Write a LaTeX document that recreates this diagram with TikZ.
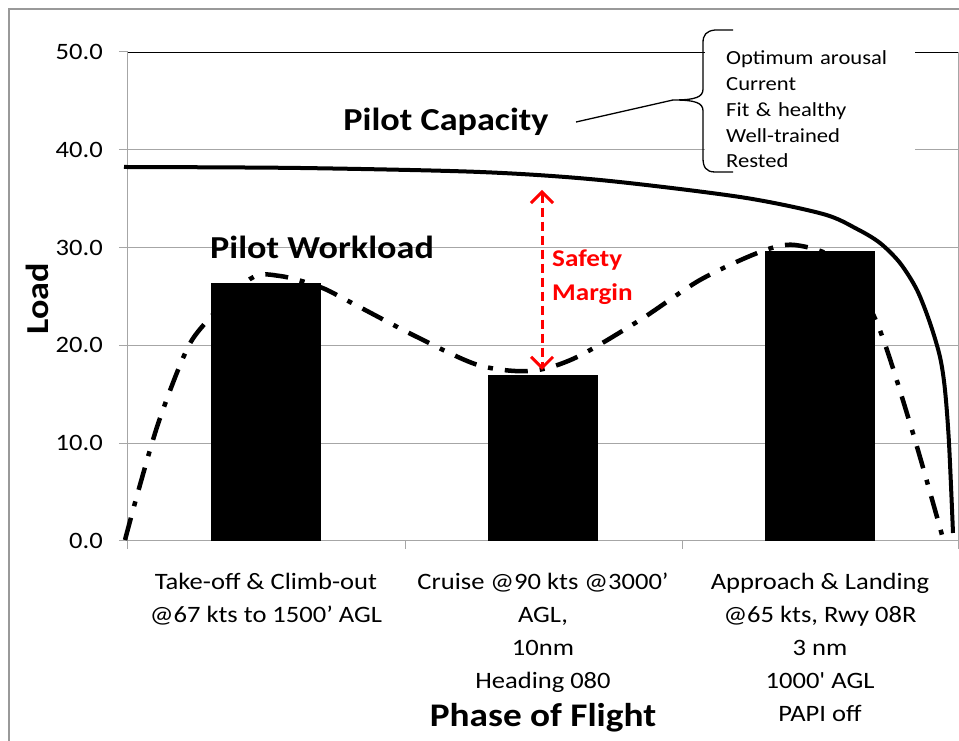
\documentclass[tikz,border=0pt]{standalone}
\usepackage{fontspec}
\setmainfont{Carlito}[FakeStretch=1.13, Ligatures=TeXOff]
\usetikzlibrary{positioning, arrows.meta}

\begin{document}
\begin{tikzpicture}[
    x=1pt, y=1pt,
    gridline/.style={draw=gray!70, line width=1pt},
    ticklabel/.style={anchor=east, inner sep=0pt, font=\fontsize{23.5}{28}\selectfont},
    catlabel/.style={anchor=north, align=center, inner sep=0pt, font=\fontsize{23.5}{33}\selectfont},
    bar/.style={fill=black},
    capacity/.style={line width=4pt},
    workload/.style={line width=4.5pt, dash pattern=on 23pt off 12pt on 5pt off 12pt},
    margin/.style={red, line width=3pt, dash pattern=on 9pt off 5pt,
        {Straight Barb[length=11pt,width=22pt]}-{Straight Barb[length=11pt,width=22pt]}},
    title/.style={font=\bfseries\fontsize{32}{36}\selectfont},
    ]
    \useasboundingbox (-128,-200) rectangle (831,541);

    % frame round the chart
    \draw[gray!80, line width=2pt] (-119,-200) -- (-119,532) -- (831,532);

    % grid, axes and ticks
    \begin{scope}[y=9.78pt]
        \foreach \v in {10,20,30,40}
            \draw[gridline] (0,\v) -- (830,\v);
        \draw[gridline] (0,0) -- (830,0);
        \draw[gridline] (0,0) -- (0,50);
        \draw[gridline] (830,0) -- (830,50);
        \draw[black, line width=0.8pt] (0,50) -- (830,50);
        \foreach \v in {0,10,...,50} {
            \draw[gridline] (-9,\v) -- (0,\v);
            \node[ticklabel] (t\v) at (-25,\v) {\v.0};
        }
        \foreach \x in {0,277,554,830}
            \draw[gridline] (\x,0) -- (\x,-0.85);
    \end{scope}

    % what the pilot needs
    \node[fill=white, text width=168pt, inner xsep=21pt, inner ysep=4pt, align=left, anchor=west,
          font=\fontsize{20}{25.75}\selectfont] (needs) at (577,431.5)
        {Optimum arousal\\Current\\Fit \& healthy\\Well-trained\\Rested};
    \coordinate (tip) at (545,441);
    \draw[line width=1.3pt] (605,511) -- (587,511) .. controls (578,510) and (575,506) .. (575,498)
        -- (575,452) .. controls (575,444) and (568,441) .. (tip)
        .. controls (568,441) and (575,438) .. (575,430)
        -- (575,383) .. controls (575,374) and (578,369) .. (587,369) -- (605,369);

    % workload curve, behind the bars
    \draw[workload] plot[smooth, tension=0.5] coordinates {
        (-3,1) (10,49) (30,117) (55,183) (73,213) (122,262) (152,265) (192,254)
        (222,239) (287,205) (350,176) (402,170) (447,183) (512,221) (572,261)
        (632,289) (667,296) (712,279) (749,218) (784,111) (814,6)};

    % bars
    \begin{scope}[y=9.78pt]
        \fill[bar] (83,0) rectangle (193,26.4);
        \fill[bar] (360,0) rectangle (470,17.0);
        \fill[bar] (637,0) rectangle (747,29.7);
    \end{scope}

    % capacity curve
    \draw[capacity] plot[smooth, tension=0.5] coordinates {
        (-4,374) (172,373) (352,369) (472,361) (612,344) (695,327) (729,312)
        (752,298) (772,278) (789,251) (802,218) (812,184) (817,151) (821,98) (825,8)};

    % safety margin
    \coordinate (mtop) at (414,351);
    \coordinate (mbot) at (414,171);
    \draw[margin] (mtop) -- (mbot);
    \node[anchor=west, align=left, red, inner sep=0pt,
          font=\bfseries\fontsize{24}{34}\selectfont] (safe) at (424,264) {Safety\\Margin};

    % titles
    \node[title] (cap) at (318,419) {Pilot Capacity};
    \node[title] (work) at (194,294) {Pilot Workload};
    \draw[line width=1.3pt] ([xshift=24pt]cap.east) -- (tip);

    % phases
    \node[catlabel] (takeoff) at (138,-32) {Take-off \& Climb-out\\@67 kts to 1500’ AGL};
    \node[catlabel] (cruise) at (415,-32) {Cruise @90 kts @3000’\\AGL,\\10nm\\Heading 080};
    \node[catlabel] (approach) at (692,-32) {Approach \& Landing\\@65 kts, Rwy 08R\\3 nm\\1000' AGL\\PAPI off};

    % axis titles
    \node[font=\bfseries\fontsize{33}{36}\selectfont] (phase) at (415,-177) {Phase of Flight};
    \node[rotate=90, font=\bfseries\fontsize{32}{36}\selectfont] (load) at (-91,242) {Load};
\end{tikzpicture}
\end{document}
